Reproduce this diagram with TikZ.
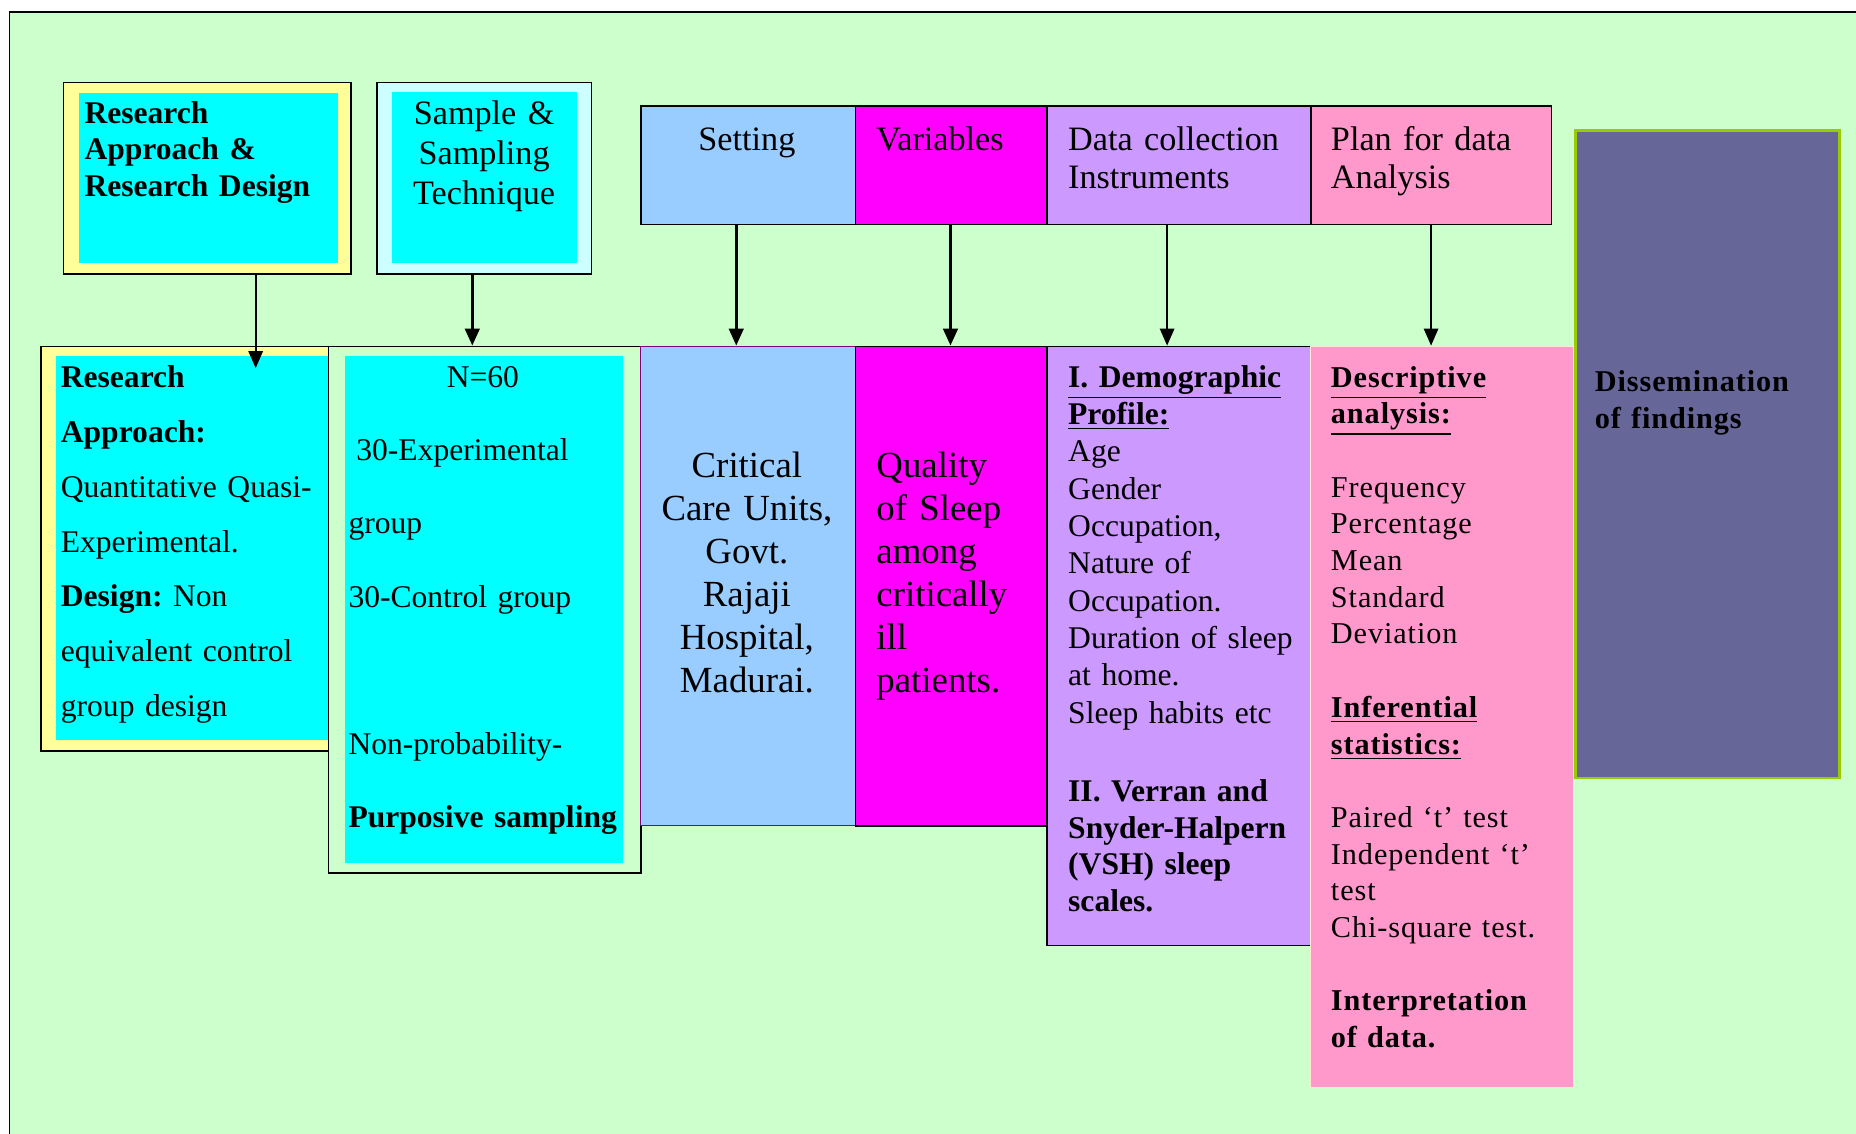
\documentclass[tikz,border=0pt]{standalone}
\usepackage{fontspec}
\setmainfont{Liberation Serif}
\newfontfamily\spfont[LetterSpace=3]{Liberation Serif}
\usetikzlibrary{arrows.meta}
\definecolor{bg}{HTML}{CCFFCC}
\definecolor{yel}{HTML}{FFFF99}
\definecolor{cyn}{HTML}{00FFFF}
\definecolor{lcyn}{HTML}{CCFFFF}
\definecolor{lblue}{HTML}{99CCFF}
\definecolor{mag}{HTML}{FF00FF}
\definecolor{lav}{HTML}{CC99FF}
\definecolor{pnk}{HTML}{FF99CC}
\definecolor{slate}{HTML}{666699}
\definecolor{grn}{HTML}{99CC00}
\definecolor{purp}{HTML}{800080}
\definecolor{pale}{HTML}{FFE8D0}
\newcommand\pxu{0.45pt}
\frenchspacing
\begin{document}
\begin{tikzpicture}[x=0.45pt,y=-0.45pt,
  box/.style={rectangle,draw=black,line width=0.6pt,inner sep=0pt,anchor=north west},
  inbox/.style={rectangle,draw=none,inner sep=0pt,anchor=north west},
  txt/.style={anchor=base west,inner sep=0pt,align=left},
  ctxt/.style={anchor=base,inner sep=0pt,align=center},
  arrthick/.style={-{Triangle[length=6.5pt,width=5.5pt]},line width=1.2pt},
  arrthin/.style={-{Triangle[length=6.5pt,width=5.5pt]},line width=0.65pt}]
\useasboundingbox (0,0) rectangle (1568,958);
\fill[white] (0,0) rectangle (1568,958);
\fill[bg] (8,10) rectangle (1568,958);
\draw[line width=0.5pt] (8,958) -- (8,10) -- (1568,10);

% top left boxes
\node[box,fill=yel,minimum width=243*\pxu,minimum height=162*\pxu] (rad) at (53,69) {};
\node[inbox,fill=cyn,minimum width=219*\pxu,minimum height=144*\pxu] (radin) at (66,78) {};
\node[txt,font=\bfseries\fontsize{12}{13.95}\selectfont,text width=215*\pxu] (radt) at (71,104) {Research\\Approach \&\\Research Design};

\node[box,fill=lcyn,minimum width=181*\pxu,minimum height=162*\pxu] (sst) at (318,69) {};
\node[inbox,fill=cyn,minimum width=156*\pxu,minimum height=145*\pxu] (sstin) at (331,77) {};
\node[ctxt,font=\fontsize{13}{15.3}\selectfont,text width=156*\pxu] (sstt) at (409,105) {Sample \&\\Sampling\\Technique};

% top row
\node[box,fill=lblue,minimum width=181*\pxu,minimum height=100*\pxu] (set) at (541,89) {};
\node[box,fill=mag,minimum width=162*\pxu,minimum height=100*\pxu] (var) at (722,89) {};
\node[box,fill=lav,minimum width=223*\pxu,minimum height=100*\pxu] (dci) at (884,89) {};
\node[box,fill=pnk,minimum width=203*\pxu,minimum height=100*\pxu] (pda) at (1107,89) {};
\node[ctxt,font=\fontsize{13}{14.4}\selectfont,text width=170*\pxu] (sett) at (631,127) {Setting};
\node[txt,font=\fontsize{13}{14.4}\selectfont,text width=150*\pxu] (vart) at (740,127) {Variables};
\node[txt,font=\fontsize{13}{14.4}\selectfont,text width=210*\pxu] (dcit) at (902,127) {Data collection\\Instruments};
\node[txt,font=\fontsize{13}{14.4}\selectfont,text width=190*\pxu] (pdat) at (1124,127) {Plan for data\\Analysis};

% dissemination
\node[box,draw=grn,line width=1pt,fill=slate,minimum width=223*\pxu,minimum height=547*\pxu] (dis) at (1330,109) {};
\node[txt,font=\spfont\bfseries\fontsize{11.5}{13.95}\selectfont,text width=210*\pxu] (dist) at (1347,331) {Dissemination\\of findings};

% bottom row
\node[box,fill=yel,minimum width=262*\pxu,minimum height=342*\pxu] (ra) at (34,292) {};
\node[inbox,fill=cyn,minimum width=250*\pxu,minimum height=325*\pxu] (rain) at (47,300) {};
\node[txt,font=\fontsize{12}{20.9}\selectfont,text width=225*\pxu] (rat) at (51,327) {\textbf{Research}\\\textbf{Approach:}\\Quantitative Quasi-\\Experimental.\\\textbf{Design:} Non\\equivalent control\\group design};

\node[box,fill=bg,minimum width=264*\pxu,minimum height=445*\pxu] (smp) at (277,292) {};
\node[inbox,fill=cyn,minimum width=235*\pxu,minimum height=429*\pxu] (smpin) at (291,300) {};
\node[ctxt,font=\fontsize{12}{14}\selectfont,text width=200*\pxu] (smpn) at (408,327) {N=60};
\node[txt,font=\fontsize{12}{27.9}\selectfont,text width=234*\pxu] (smpt) at (294,389) {\hspace*{3pt}30-Experimental\\group\\30-Control group\\[27.9pt]Non-probability-\\\textbf{Purposive sampling}};

\node[box,draw=purp,line width=0.4pt,fill=lblue,minimum width=181*\pxu,minimum height=405*\pxu] (setb) at (541,292) {};
\node[ctxt,font=\fontsize{14}{16.4}\selectfont,text width=175*\pxu] (setbt) at (631,403) {Critical\\Care Units,\\Govt.\\Rajaji\\Hospital,\\Madurai.};

\node[box,fill=mag,minimum width=162*\pxu,minimum height=405*\pxu] (varb) at (722,292) {};
\node[txt,font=\fontsize{14}{16.4}\selectfont,text width=140*\pxu] (varbt) at (740,403) {Quality\\of Sleep\\among\\critically\\ill\\patients.};

\node[box,fill=lav,minimum width=223*\pxu,minimum height=506*\pxu] (dcib) at (884,292) {};
\node[txt,font=\fontsize{12}{14.2}\selectfont,text width=210*\pxu] (dcibt) at (902,327) {\textbf{\underline{I. Demographic}}\\\textbf{\underline{Profile:}}\\Age\\Gender\\Occupation,\\Nature of\\Occupation.\\Duration of sleep\\at home.\\Sleep habits etc};
\node[txt,font=\bfseries\fontsize{12}{13.95}\selectfont,text width=210*\pxu] (dcib2) at (902,677) {II. Verran and\\Snyder-Halpern\\(VSH) sleep\\scales.};

\node[box,draw=pale,line width=0.4pt,fill=pnk,minimum width=222*\pxu,minimum height=626*\pxu] (pdab) at (1107,292) {};
\node[txt,font=\spfont\fontsize{11.5}{13.95}\selectfont,text width=205*\pxu] (pdabt) at (1124,327) {\textbf{\underline{Descriptive}}\\\textbf{\underline{analysis:}}\\[13.95pt]Frequency\\Percentage\\Mean\\Standard\\Deviation\\[13.95pt]\textbf{\underline{Inferential}}\\\textbf{\underline{statistics:}}\\[13.95pt]Paired ‘t’ test\\Independent ‘t’\\test\\Chi-square test.\\[13.95pt]\textbf{Interpretation}\\\textbf{of data.}};

% arrows
\coordinate (a1e) at (216,311);
\coordinate (a2x) at (399,0);
\coordinate (a3x) at (622,0);
\coordinate (a4x) at (803,0);
\coordinate (a5x) at (986,0);
\coordinate (a6x) at (1209,0);
\draw[arrthin] (rad.south -| a1e) -- (a1e);
\draw[arrthick] (sst.south -| a2x) -- (smp.north -| a2x);
\draw[arrthick] (set.south -| a3x) -- (setb.north -| a3x);
\draw[arrthick] (var.south -| a4x) -- (varb.north -| a4x);
\draw[arrthin] (dci.south -| a5x) -- (dcib.north -| a5x);
\draw[arrthin] (pda.south -| a6x) -- (pdab.north -| a6x);
\end{tikzpicture}
\end{document}
